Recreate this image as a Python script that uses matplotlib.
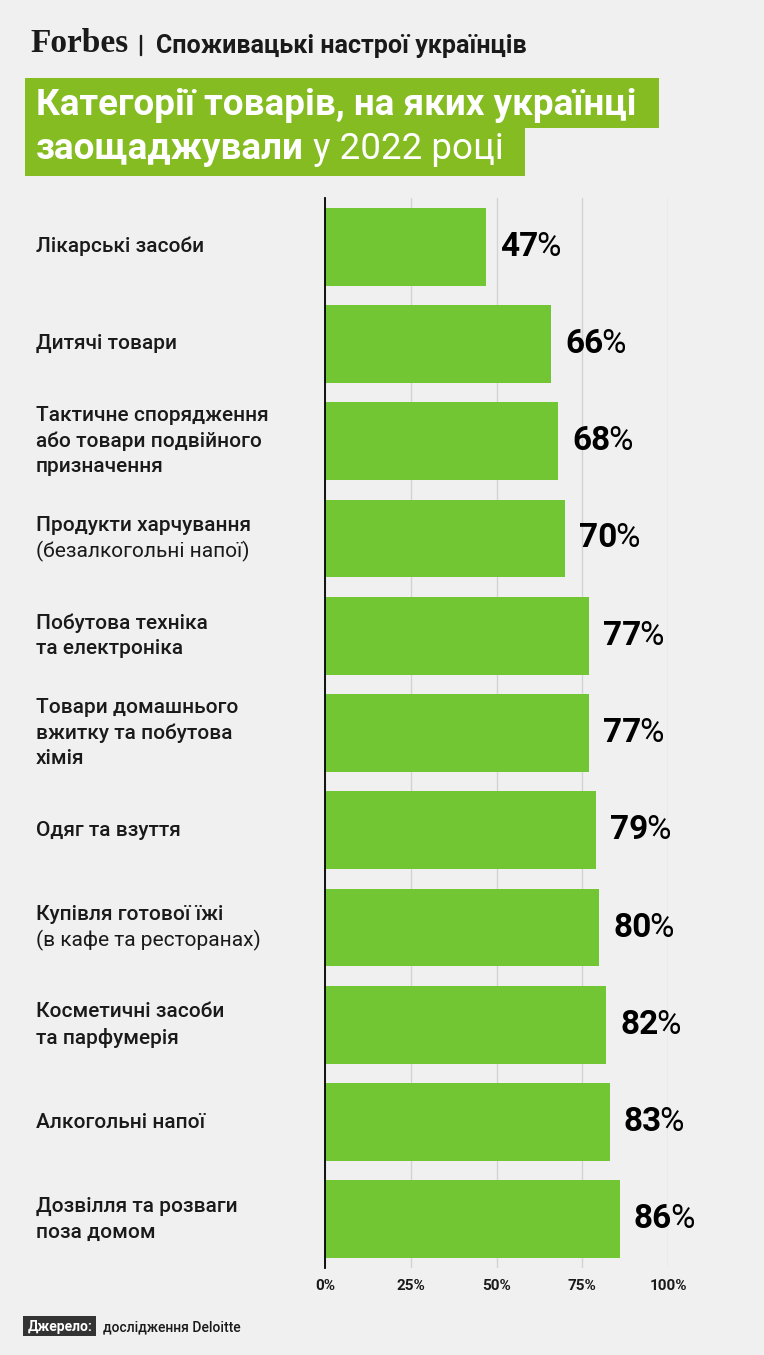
import matplotlib.pyplot as plt
import matplotlib.transforms as mtransforms
from matplotlib.patches import Rectangle

categories = [
    'Лікарські засоби',
    'Дитячі товари',
    'Тактичне спорядження\nабо товари подвійного\nпризначення',
    'Продукти харчування\n(безалкогольні напої)',
    'Побутова техніка\nта електроніка',
    'Товари домашнього\nвжитку та побутова\nхімія',
    'Одяг та взуття',
    'Купівля готової їжі\n(в кафе та ресторанах)',
    'Косметичні засоби\nта парфумерія',
    'Алкогольні напої',
    'Дозвілля та розваги\nпоза домом',
]
values = [47, 66, 68, 70, 77, 77, 79, 80, 82, 83, 86]
xticks = [0, 25, 50, 75, 100]
xtick_labels = ['0%', '25%', '50%', '75%', '100%']

W, H = 764, 1355
BG = '#f0f0f0'
BAR = '#72c634'
TITLE_GREEN = '#85bc22'
DARK = '#1a1a1a'

plt.rcParams['font.family'] = ['Roboto', 'DejaVu Sans']

fig = plt.figure(figsize=(W / 100, H / 100), dpi=100, facecolor=BG)


def fx(x):
    return x / W


def fy(y):
    return 1 - y / H


# header
fig.text(fx(30), fy(52), 'Forbes', family='Liberation Serif', weight='bold',
         fontsize=24, color=DARK, va='baseline', ha='left')
fig.add_artist(Rectangle((fx(140), fy(55)), 1.2 / W, 20 / H,
                         transform=fig.transFigure, color=DARK))
fig.text(fx(156), fy(53), 'Споживацькі настрої українців', weight='bold',
         fontsize=18, color=DARK, va='baseline', ha='left')

# title boxes
fig.add_artist(Rectangle((fx(25), fy(128)), 634 / W, 50 / H,
                         transform=fig.transFigure, color=TITLE_GREEN, lw=0))
fig.add_artist(Rectangle((fx(25), fy(176)), 500 / W, 49 / H,
                         transform=fig.transFigure, color=TITLE_GREEN, lw=0))
fig.text(fx(36), fy(115), 'Категорії товарів, на яких українці', weight='bold',
         fontsize=26.5, color='white', va='baseline', ha='left')
t2 = fig.text(fx(36), fy(159), 'заощаджували', weight='bold',
              fontsize=26.5, color='white', va='baseline', ha='left')
fig.add_artist(plt.Annotation(' у 2022 році', xy=(1, 0), xycoords=t2,
                              fontsize=26.5, color='white', weight='normal',
                              va='bottom', ha='left'))

ax = fig.add_axes([fx(325), fy(1268), (668 - 325) / W, (1268 - 198) / H])
ax.set_facecolor(BG)
ypos = list(range(len(values)))
ax.barh(ypos, values, height=0.8, color=BAR, zorder=2)
ax.set_xlim(0, 100)
ax.set_ylim(len(values) - 0.5, -0.5)
ax.set_xticks(xticks)
ax.set_xticklabels(xtick_labels, fontsize=11, weight='bold', color=DARK)
ax.tick_params(axis='x', length=0, pad=8)
ax.set_yticks([])
ax.grid(axis='x', color='#d2d2d2', lw=1, zorder=0)
for s in ['top', 'right', 'bottom']:
    ax.spines[s].set_visible(False)
ax.spines['left'].set_color('black')
ax.spines['left'].set_linewidth(1.3)
ax.spines['left'].set_zorder(3)

# value labels: bold number, regular percent sign
for y, v in zip(ypos, values):
    t = ax.annotate(str(v), xy=(v, y), xytext=(10, 0), textcoords='offset points',
                    fontsize=24, weight='bold', color='black',
                    va='center', ha='left', annotation_clip=False)
    ax.annotate('%', xy=(1, 0), xycoords=t, xytext=(-1.5, 0),
                textcoords='offset points', fontsize=24, color='black',
                va='bottom', ha='left', annotation_clip=False)

# category labels
blend = mtransforms.blended_transform_factory(fig.transFigure, ax.transData)
line_step = 18.5
for y, label in zip(ypos, categories):
    lines = label.split('\n')
    n = len(lines)
    for i, line in enumerate(lines):
        off = ((n - 1) / 2 - i) * line_step
        w = 'normal' if line.startswith('(') else 'medium'
        ax.annotate(line, xy=(fx(36), y), xycoords=blend, xytext=(0, off),
                    textcoords='offset points', fontsize=15, weight=w,
                    color=DARK, va='center', ha='left', annotation_clip=False)

# source
fig.add_artist(Rectangle((fx(23), fy(1336)), 73 / W, 20 / H,
                         transform=fig.transFigure, color='#333333', lw=0))
fig.text(fx(28), fy(1331), 'Джерело:', weight='bold', fontsize=10, color='white',
         va='baseline', ha='left')
fig.text(fx(103), fy(1331), 'дослідження Deloitte', weight='medium', fontsize=10,
         color=DARK, va='baseline', ha='left')

fig.savefig('out.png', dpi=100, facecolor=BG)
